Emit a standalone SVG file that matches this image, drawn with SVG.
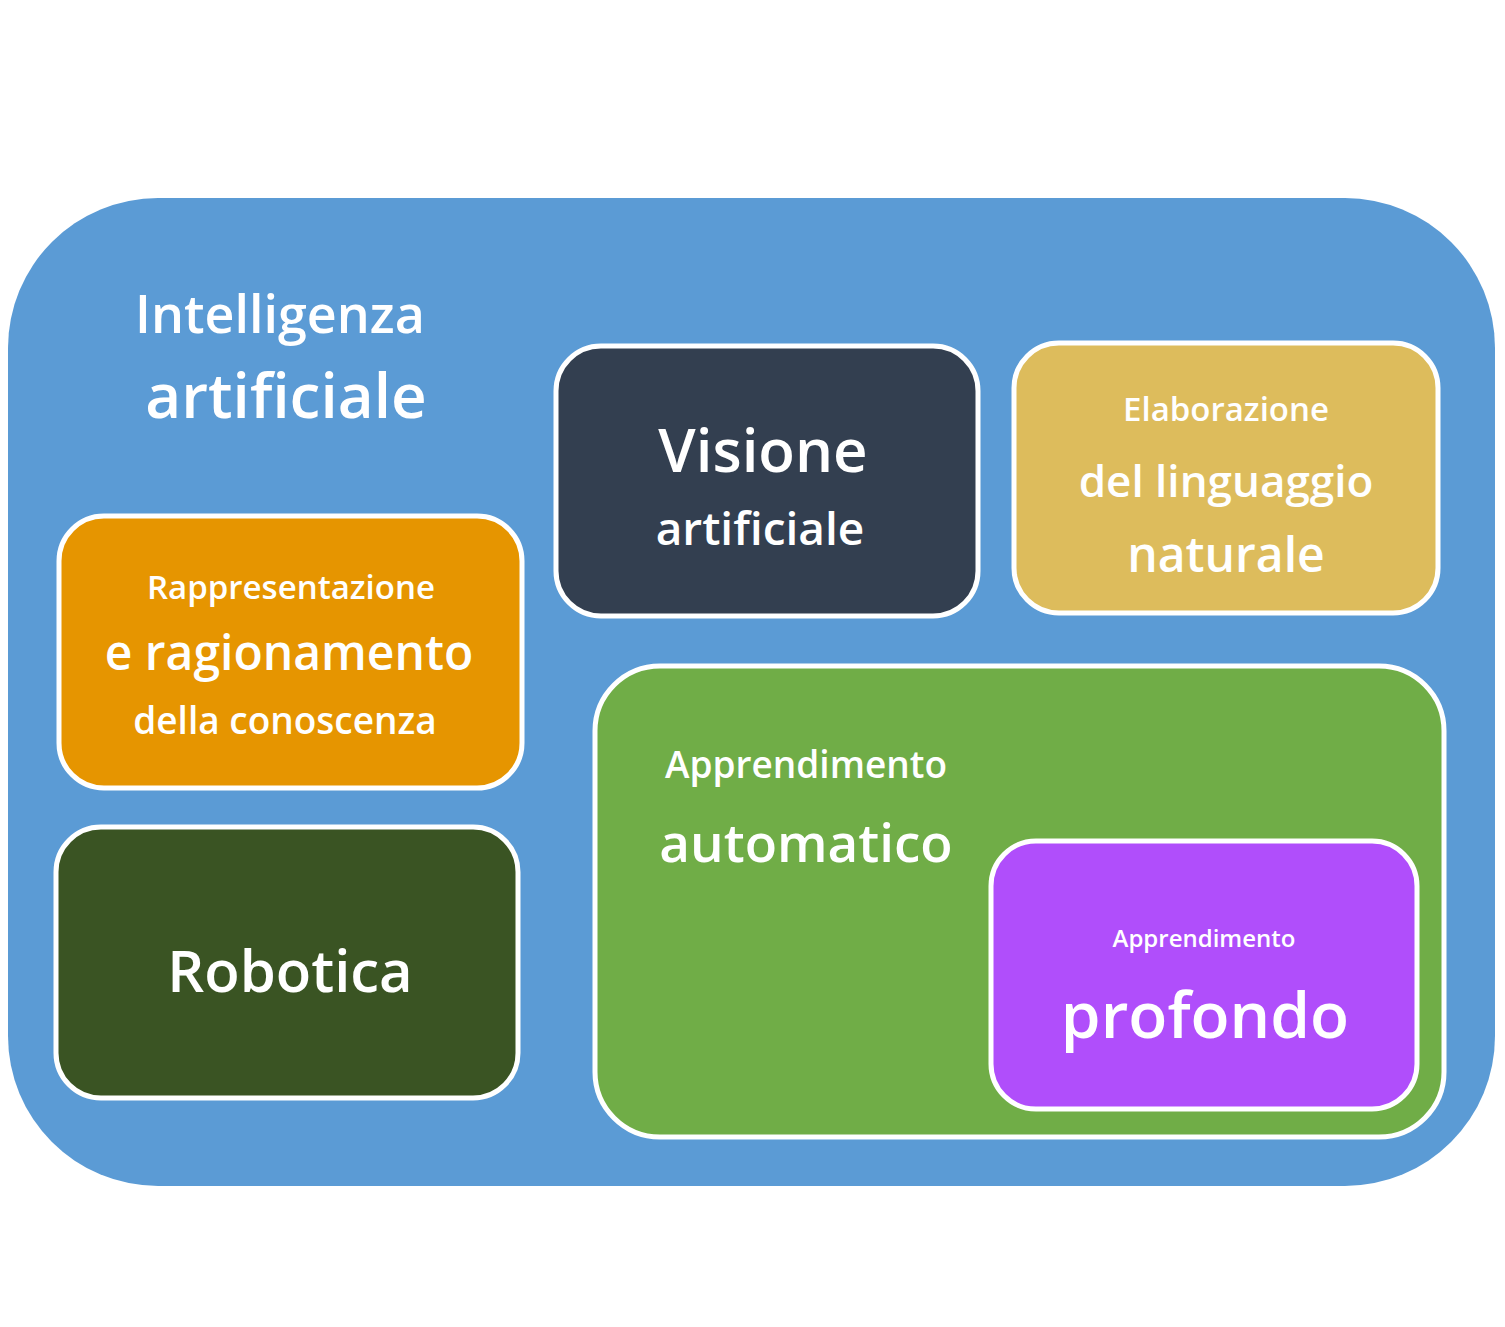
<svg xmlns="http://www.w3.org/2000/svg" width="1505" height="1327" viewBox="0 0 1505 1327">
<style>
.box{stroke:#fff;stroke-width:5}
text{font-family:"Open Sans","Noto Sans",sans-serif;font-weight:600;fill:#fff;text-anchor:middle}
</style>
<rect width="1505" height="1327" fill="#fff"/>
<g id="ai">
<rect x="8" y="198" width="1487" height="988" rx="150" fill="#5B9BD5"/>
<text x="280" y="333" font-size="52">Intelligenza</text>
<text x="286" y="418" font-size="62">artificiale</text>
</g>
<g id="visione">
<rect class="box" x="556" y="346" width="422" height="270" rx="45" fill="#333F50"/>
<text x="763" y="472" font-size="60">Visione</text>
<text x="760" y="545" font-size="46">artificiale</text>
</g>
<g id="nlp">
<rect class="box" x="1014" y="343" width="424" height="270" rx="45" fill="#DDBC5C"/>
<text x="1226" y="421" font-size="33">Elaborazione</text>
<text x="1226" y="497" font-size="44">del linguaggio</text>
<text x="1226" y="572" font-size="48">naturale</text>
</g>
<g id="kr">
<rect class="box" x="59" y="516" width="463" height="272" rx="45" fill="#E69500"/>
<text x="291" y="599" font-size="33">Rappresentazione</text>
<text x="289" y="670" font-size="48">e ragionamento</text>
<text x="285" y="734" font-size="37">della conoscenza</text>
</g>
<g id="robotica">
<rect class="box" x="56" y="827" width="462" height="271" rx="45" fill="#3A5423"/>
<text x="290" y="992" font-size="58">Robotica</text>
</g>
<g id="ml">
<rect class="box" x="595" y="666" width="849" height="471" rx="65" fill="#70AD47"/>
<text x="806" y="778" font-size="37">Apprendimento</text>
<text x="806" y="862" font-size="53">automatico</text>
</g>
<g id="dl">
<rect class="box" x="991" y="841" width="426" height="268" rx="45" fill="#B04EFB"/>
<text x="1204" y="947" font-size="24">Apprendimento</text>
<text x="1205" y="1038" font-size="64">profondo</text>
</g>
<g id="connectors"></g>
</svg>
